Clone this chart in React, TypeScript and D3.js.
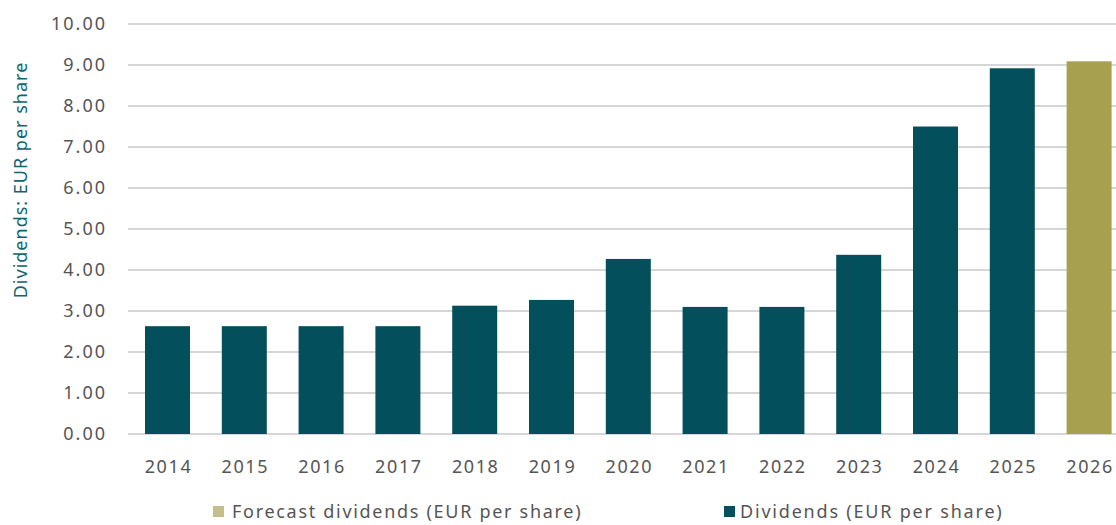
import React from "react";
import * as d3 from "d3";

const years = ["2014","2015","2016","2017","2018","2019","2020","2021","2022","2023","2024","2025","2026"];
const dividends = [2.63, 2.63, 2.63, 2.63, 3.13, 3.27, 4.27, 3.10, 3.10, 4.37, 7.50, 8.92, 9.09];
const forecastFlags = [false,false,false,false,false,false,false,false,false,false,false,false,true];
const yTicks = [0,1,2,3,4,5,6,7,8,9,10];
const legendLabels = ["Forecast dividends (EUR per share)", "Dividends (EUR per share)"];

const W = 1116, H = 525;
const TEAL = "#03505c";
const OLIVE = "#a6a04f";
const OLIVE_LIGHT = "#c2bf8d";
const TEXT = "#555555";
const FONT = "'Noto Sans', 'Open Sans', sans-serif";

export default function App() {
  const x = d3.scaleBand<string>().domain(years).range([129.1, 1127.5]).paddingInner(0.414).paddingOuter(0.207);
  const y = d3.scaleLinear().domain([0, 10]).range([434, 24]);
  return (
    <svg width={W} height={H} style={{ position: "absolute", left: 0, top: 0 }} fontFamily={FONT}>
      {yTicks.map((t) => (
        <g key={t}>
          <line x1={128} x2={1116} y1={y(t)} y2={y(t)} stroke="#c8c8c8" strokeWidth={1.3} />
          <text x={107} y={y(t)} dy="0.35em" textAnchor="end" fontSize={18} letterSpacing={2} fill={TEXT}>{t.toFixed(2)}</text>
        </g>
      ))}
      {years.map((yr, i) => (
        <rect key={yr} x={x(yr)} width={x.bandwidth()} y={y(dividends[i])} height={y(0) - y(dividends[i])}
          fill={forecastFlags[i] ? OLIVE : TEAL} />
      ))}
      {years.map((yr) => (
        <text key={yr} x={(x(yr) as number) + x.bandwidth() / 2 + 1} y={467} dy="0.35em" textAnchor="middle" fontSize={18} letterSpacing={1.6} fill={TEXT}>{yr}</text>
      ))}
      <text transform={`translate(27,180) rotate(-90)`} textAnchor="middle" fontSize={18} letterSpacing={1} fill="#11656f">Dividends: EUR per share</text>
      <rect x={213} y={506} width={11} height={11} fill={OLIVE_LIGHT} />
      <text x={232} y={512} dy="0.35em" fontSize={18} letterSpacing={1.7} fill={TEXT}>{legendLabels[0]}</text>
      <rect x={724} y={506} width={11} height={11} fill={TEAL} />
      <text x={740} y={512} dy="0.35em" fontSize={18} letterSpacing={1.8} fill={TEXT}>{legendLabels[1]}</text>
    </svg>
  );
}
